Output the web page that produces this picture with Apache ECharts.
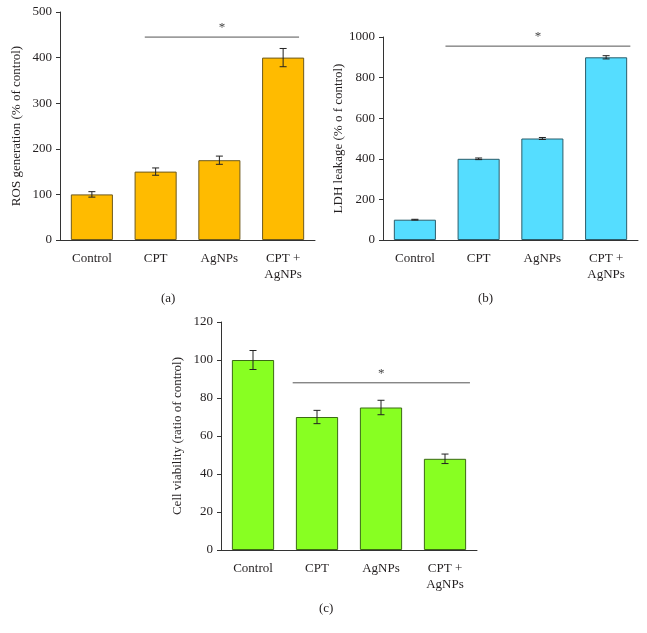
<!DOCTYPE html>
<html>
<head>
<meta charset="utf-8">
<script src="https://cdn.jsdelivr.net/npm/echarts@6/dist/echarts.min.js"></script>
<style>
  html, body { margin: 0; padding: 0; background: #fff; }
  #main { width: 647px; height: 633px; }
</style>
</head>
<body>
<div id="main"></div>
<script>
// categories shared by all three panels
var categories = ['Control', 'CPT', 'AgNPs', 'CPT +\nAgNPs'];

// (a) ROS generation
var rosValues = [100, 150, 175, 400];
var rosErrors = [6, 8, 9, 20];
// (b) LDH leakage
var ldhValues = [100, 400, 500, 900];
var ldhErrors = [2, 4, 5, 8];
// (c) cell viability
var viaValues = [100, 70, 75, 48];
var viaErrors = [5, 3.5, 3.8, 2.5];

// significance bars: [from category pos, to category pos, y value]
var rosSig = [0.83, 3.25, 445];
var ldhSig = [0.48, 3.38, 955];
var viaSig = [0.62, 3.39, 88];

var font = 'Liberation Serif, DejaVu Serif, serif';
var textColor = '#231f20';

function errData(vals, errs) {
    return vals.map(function (v, i) { return [i, v - errs[i], v + errs[i]]; });
}

// error bars, drawn through the axes
function renderErr(params, api) {
    var x = api.value(0);
    var lo = api.coord([x, api.value(1)]);
    var hi = api.coord([x, api.value(2)]);
    var w = 3.5;
    var st = { stroke: '#222', lineWidth: 1 };
    return {
        type: 'group', children: [
            { type: 'line', shape: { x1: lo[0], y1: lo[1], x2: hi[0], y2: hi[1] }, style: st },
            { type: 'line', shape: { x1: hi[0] - w, y1: hi[1], x2: hi[0] + w, y2: hi[1] }, style: st },
            { type: 'line', shape: { x1: lo[0] - w, y1: lo[1], x2: lo[0] + w, y2: lo[1] }, style: st }
        ]
    };
}

// significance line with a star
function renderSig(params, api) {
    var c0 = api.coord([0, api.value(2)]);
    var band = api.size([1, 0])[0];
    var x1 = c0[0] + api.value(0) * band;
    var x2 = c0[0] + api.value(1) * band;
    var y = c0[1];
    return {
        type: 'group', children: [
            { type: 'line', shape: { x1: x1, y1: y, x2: x2, y2: y }, style: { stroke: '#555', lineWidth: 1 } },
            { type: 'text', x: (x1 + x2) / 2, y: y - 3, style: { text: '*', fill: '#444', font: '13px ' + font, align: 'center', verticalAlign: 'bottom' } }
        ]
    };
}

function xAxisFor(idx) {
    return {
        type: 'category', gridIndex: idx, data: categories,
        axisLine: { lineStyle: { color: '#333' } },
        axisTick: { lineStyle: { color: '#333' }, length: 5 },
        axisLabel: { color: textColor, fontFamily: font, fontSize: 13, margin: 11, lineHeight: 16, interval: 0 }
    };
}

function yAxisFor(idx, max, interval, name) {
    return {
        type: 'value', gridIndex: idx, min: 0, max: max, interval: interval,
        name: name, nameLocation: 'middle', nameGap: 37,
        nameTextStyle: { color: textColor, fontFamily: font, fontSize: 13 },
        splitLine: { show: false },
        axisLine: { show: true, lineStyle: { color: '#333' } },
        axisTick: { show: true, length: 4, lineStyle: { color: '#333' } },
        axisLabel: {
            color: textColor, fontFamily: font, fontSize: 13, margin: 8,
            formatter: function (v) { return String(v); }
        }
    };
}

function barSeries(idx, vals, color, border) {
    return {
        type: 'bar', xAxisIndex: idx, yAxisIndex: idx, data: vals,
        barCategoryGap: '34%',
        itemStyle: { color: color, borderColor: border, borderWidth: 1 }
    };
}

function errSeries(idx, vals, errs) {
    return {
        type: 'custom', xAxisIndex: idx, yAxisIndex: idx,
        data: errData(vals, errs), renderItem: renderErr, z: 3
    };
}

function sigSeries(idx, sig) {
    return {
        type: 'custom', xAxisIndex: idx, yAxisIndex: idx,
        data: [sig], renderItem: renderSig, z: 3
    };
}

var option = {
    backgroundColor: '#fff',
    animation: false,
    textStyle: { fontFamily: font },
    title: [
        { text: '(a)', left: 156, top: 287, textStyle: { fontFamily: font, fontSize: 13, fontWeight: 'normal', color: textColor } },
        { text: '(b)', left: 473, top: 287, textStyle: { fontFamily: font, fontSize: 13, fontWeight: 'normal', color: textColor } },
        { text: '(c)', left: 314, top: 597, textStyle: { fontFamily: font, fontSize: 13, fontWeight: 'normal', color: textColor } }
    ],
    grid: [
        { left: 60, top: 12, width: 255, height: 228 },
        { left: 383, top: 37, width: 255, height: 203 },
        { left: 221, top: 322, width: 256, height: 228 }
    ],
    xAxis: [xAxisFor(0), xAxisFor(1), xAxisFor(2)],
    yAxis: [
        yAxisFor(0, 500, 100, 'ROS generation (% of control)'),
        yAxisFor(1, 1000, 200, 'LDH leakage (% o f control)'),
        yAxisFor(2, 120, 20, 'Cell viability (ratio of control)')
    ],
    series: [
        barSeries(0, rosValues, '#ffbb00', '#6e5a1c'),
        errSeries(0, rosValues, rosErrors),
        sigSeries(0, rosSig),
        barSeries(1, ldhValues, '#55ddff', '#2b5d6b'),
        errSeries(1, ldhValues, ldhErrors),
        sigSeries(1, ldhSig),
        barSeries(2, viaValues, '#88ff22', '#3b6a14'),
        errSeries(2, viaValues, viaErrors),
        sigSeries(2, viaSig)
    ]
};

var myChart = echarts.init(document.getElementById('main'));
myChart.setOption(option);
</script>
</body>
</html>
